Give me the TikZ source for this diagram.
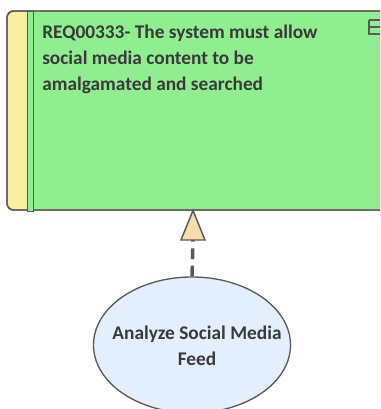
\documentclass[tikz,border=0pt]{standalone}
\usepackage{fontspec}
\usetikzlibrary{shapes.geometric}
\setmainfont{Carlito}
\definecolor{reqgreen}{HTML}{90EE90}
\definecolor{reqyellow}{HTML}{F8F0A0}
\definecolor{ucblue}{HTML}{E3EFFC}
\definecolor{arrfill}{HTML}{F7DCB0}
\definecolor{edge}{HTML}{5A5A5A}
\definecolor{txt}{HTML}{3A3A3A}
\begin{document}
\begin{tikzpicture}[x=0.75pt,y=-0.75pt,
  outline/.style={draw=edge,line width=1.1pt},
  lbl/.style={font=\fontsize{14.5pt}{19.5pt}\selectfont\bfseries,text=txt}]
\useasboundingbox (0,0) rectangle (380,409);
\clip (0,0) rectangle (380,409);
% requirement box
\path[fill=reqyellow,outline,rounded corners=5pt] (7,11) rectangle (395,210);
\path[fill=reqgreen] (33,12) rectangle (394,209.3);
\path[outline,rounded corners=5pt] (7,11) rectangle (395,210);
\node[outline,fill=reqgreen,minimum width=6*0.75pt,minimum height=200*0.75pt,inner sep=0pt,anchor=north west] (strip) at (27,11) {};
\node[lbl,align=left,anchor=north west,inner sep=0pt] (req) at (42,25) {REQ00333- The system must allow\\social media content to be\\amalgamated and searched};
% icon
\draw[edge,line width=1pt] (369,20) -- (369,34) -- (385,34);
\draw[edge,line width=1pt] (369,20) -- (385,20);
\draw[edge,line width=1pt] (369,27) -- (385,27);
\coordinate (top) at (193,210.5);
% use case
\node[ellipse,draw=edge,line width=1pt,fill=ucblue,minimum width=197*0.75pt,minimum height=136*0.75pt,inner sep=0pt] (uc) at (192,345) {};
\node[lbl,align=center] (uclbl) at (197,346) {Analyze Social Media\\Feed};
% realization connector
\coordinate (base) at (193,240);
\draw[edge,line width=2.6pt,dash pattern=on 8pt off 5pt] (uc.north) -- (base);
\draw[edge,line width=1.1pt,fill=arrfill,line join=miter] (top) -- (205,240) -- (181,240) -- cycle;
\end{tikzpicture}
\end{document}
